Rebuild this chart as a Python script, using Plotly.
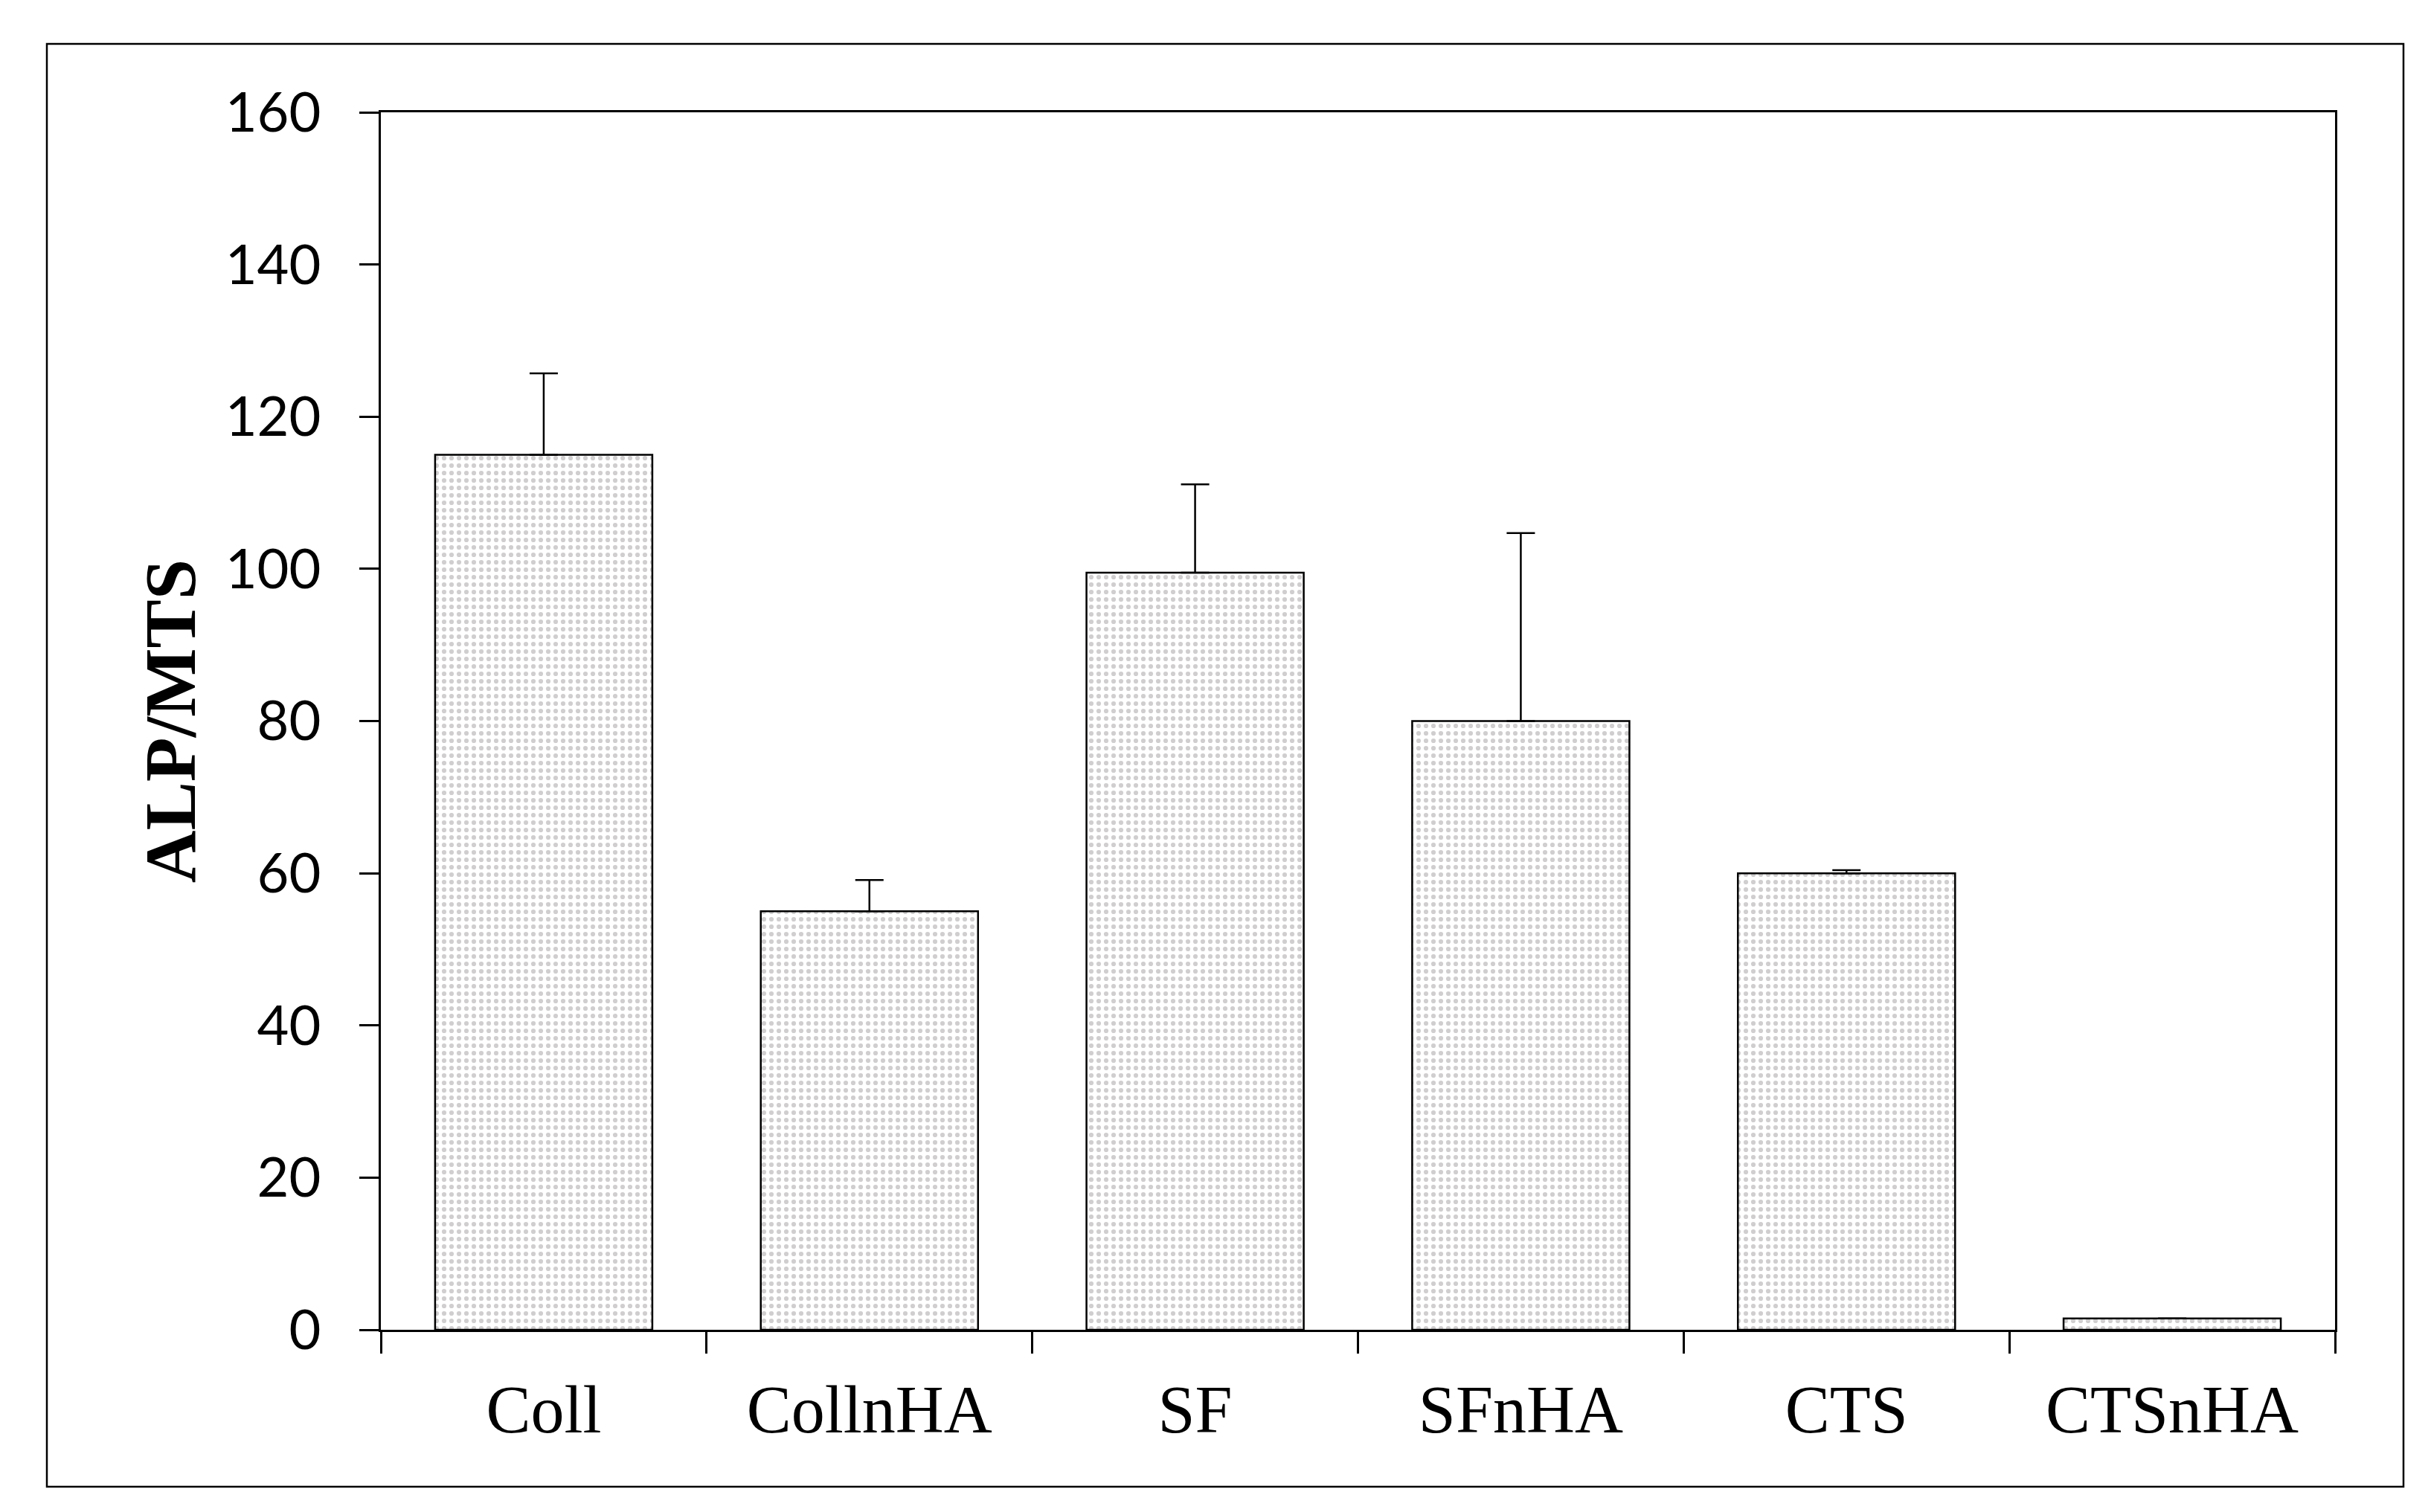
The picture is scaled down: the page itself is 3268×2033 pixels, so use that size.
import plotly.graph_objects as go

categories = ["Coll", "CollnHA", "SF", "SFnHA", "CTS", "CTSnHA"]
values = [115.0, 55.0, 99.5, 80.0, 60.0, 1.5]
errors = [10.7, 4.1, 11.6, 24.7, 0.4, 0.0]
y_ticks = [0, 20, 40, 60, 80, 100, 120, 140, 160]

W, H = 3268, 2033
L, R, T, B = 504, 137, 143, 253

fig = go.Figure()
fig.add_trace(go.Bar(
    x=categories,
    y=values,
    marker=dict(
        color="white",
        line=dict(color="black", width=2.5),
        pattern=dict(shape=".", fgcolor="#a19d9d", bgcolor="white", size=10, solidity=0.3),
    ),
    error_y=dict(
        type="data", symmetric=False, array=errors, arrayminus=[0] * len(errors),
        color="black", thickness=2.5, width=19,
    ),
    showlegend=False,
))

pw = W - L - R
ph = H - T - B
fig.add_shape(
    type="rect", xref="paper", yref="paper",
    x0=(55 - L) / pw, x1=(3223 - L) / pw,
    y0=(H - B - 1991) / ph, y1=(H - B - 51) / ph,
    line=dict(color="black", width=2.5), fillcolor="rgba(0,0,0,0)",
)

fig.update_layout(
    width=W, height=H,
    margin=dict(l=L, r=R, t=T, b=B, pad=0),
    paper_bgcolor="white", plot_bgcolor="white",
    bargap=0.333,
)
fig.update_xaxes(
    showline=True, linecolor="black", linewidth=2.5, mirror=True,
    ticks="outside", ticklen=29, tickwidth=2.5, tickcolor="black",
    tickson="boundaries", showgrid=False,
    tickfont=dict(family="Liberation Serif", size=90, color="black"),
    ticklabelstandoff=27,
)
fig.update_yaxes(
    range=[0, 160], tickvals=y_ticks,
    showline=True, linecolor="black", linewidth=2.5, mirror=True,
    ticks="outside", ticklen=26, tickwidth=2.5, tickcolor="black",
    showgrid=False, zeroline=False,
    tickfont=dict(family="Lato", size=74, color="black"),
    ticklabelstandoff=37,
    title=dict(text="<b>ALP/MTS</b>", font=dict(family="Liberation Serif", size=98, color="black"), standoff=8),
)

fig.write_html("out.html")
